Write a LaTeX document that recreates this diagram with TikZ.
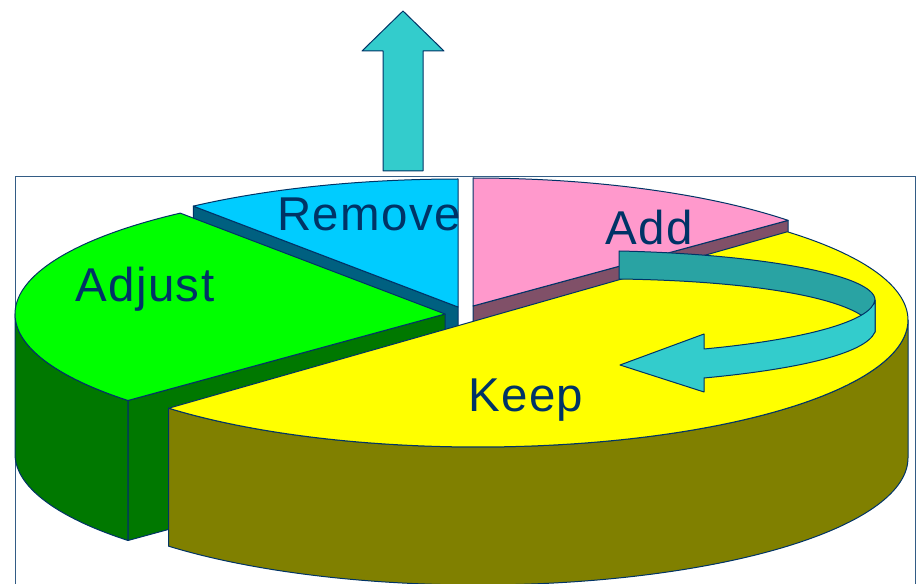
\documentclass[tikz,border=0pt]{standalone}
\usepackage{fontspec}
\setmainfont{Liberation Sans}[LetterSpace=3]
\definecolor{navy}{HTML}{003366}
\definecolor{cyanT}{HTML}{00CCFF}
\definecolor{cyanD}{HTML}{006080}
\definecolor{pinkT}{HTML}{FF99CC}
\definecolor{pinkD}{HTML}{805068}
\definecolor{greenT}{HTML}{00FF00}
\definecolor{greenD}{HTML}{007800}
\definecolor{yellowT}{HTML}{FFFF00}
\definecolor{oliveS}{HTML}{808000}
\definecolor{tealL}{HTML}{33CCCC}
\definecolor{tealD}{HTML}{29A3A3}
\tikzset{
  edge/.style={draw=navy, line width=0.75pt, line join=round},
  lbl/.style={anchor=base west, inner sep=0pt, text=navy, font=\fontsize{35.6}{40}\selectfont},
  frame/.style={draw=navy!80!white, line width=0.7pt}
}
\begin{document}
\begin{tikzpicture}[x=0.75pt, y=-0.75pt]
\useasboundingbox (0,0) rectangle (922,584);
% frame
\draw[frame] (15,584) -- (15,176) -- (915,176) -- (915,584);
% up arrow
\filldraw[edge, fill=tealL] (383,171) -- (383,51) -- (362,51) -- (403,11) -- (444,51) -- (423,51) -- (423,171) -- cycle;
% Remove slice
\filldraw[edge, fill=cyanD] (458,307) -- (193.3,206.1) -- (193.3,346.1) -- (458,447) -- cycle;
\filldraw[edge, fill=cyanT] (458,307) -- plot[domain=232:270, samples=40] ({458+430*cos(\x)},{307+128*sin(\x)}) -- cycle;
% Add slice
\filldraw[edge, fill=pinkD] (473,306) -- (788,220.4) -- (788,360.4) -- (473,446) -- cycle;
\filldraw[edge, fill=pinkT] (473,306) -- plot[domain=270:318, samples=40] ({473+424*cos(\x)},{306+128*sin(\x)}) -- cycle;
% Adjust slice
\filldraw[edge, fill=greenD] (445,314) -- (128,400.5) -- (128,540.5) -- (445,454) -- cycle;
\filldraw[edge, fill=greenD] plot[domain=137.5:180, samples=40] ({445+430*cos(\x)},{314+128*sin(\x)}) -- plot[domain=180:137.5, samples=40] ({445+430*cos(\x)},{454+128*sin(\x)}) -- cycle;
\filldraw[edge, fill=greenT] (445,314) -- plot[domain=137.5:232, samples=80] ({445+430*cos(\x)},{314+128*sin(\x)}) -- cycle;
% Keep slice
\filldraw[edge, fill=oliveS] plot[domain=0:136, samples=100] ({478+430*cos(\x)},{320+127*sin(\x)}) -- plot[domain=136:0, samples=100] ({478+430*cos(\x)},{458+127*sin(\x)}) -- cycle;
\filldraw[edge, fill=yellowT] plot[domain=-44:136, samples=150] ({478+430*cos(\x)},{320+127*sin(\x)}) -- cycle;
% curved arrow
\filldraw[edge, fill=tealD] (619,251) .. controls (760,254) and (875,275) .. (875,300) -- (875,332) .. controls (870,300) and (760,281) .. (619,279) -- cycle;
\filldraw[edge, fill=tealL] (875,300) .. controls (872,322) and (800,340) .. (704,349) -- (704,334) -- (620,365) -- (704,392) -- (704,378) .. controls (790,370) and (865,355) .. (875,332) -- cycle;
% labels
\node[lbl] (remove) at (277,231) {Remove};
\node[lbl] (adjust) at (75,302) {Adjust};
\node[lbl] (add) at (605,245) {Add};
\node[lbl] (keep) at (468,412) {Keep};
\end{tikzpicture}
\end{document}
